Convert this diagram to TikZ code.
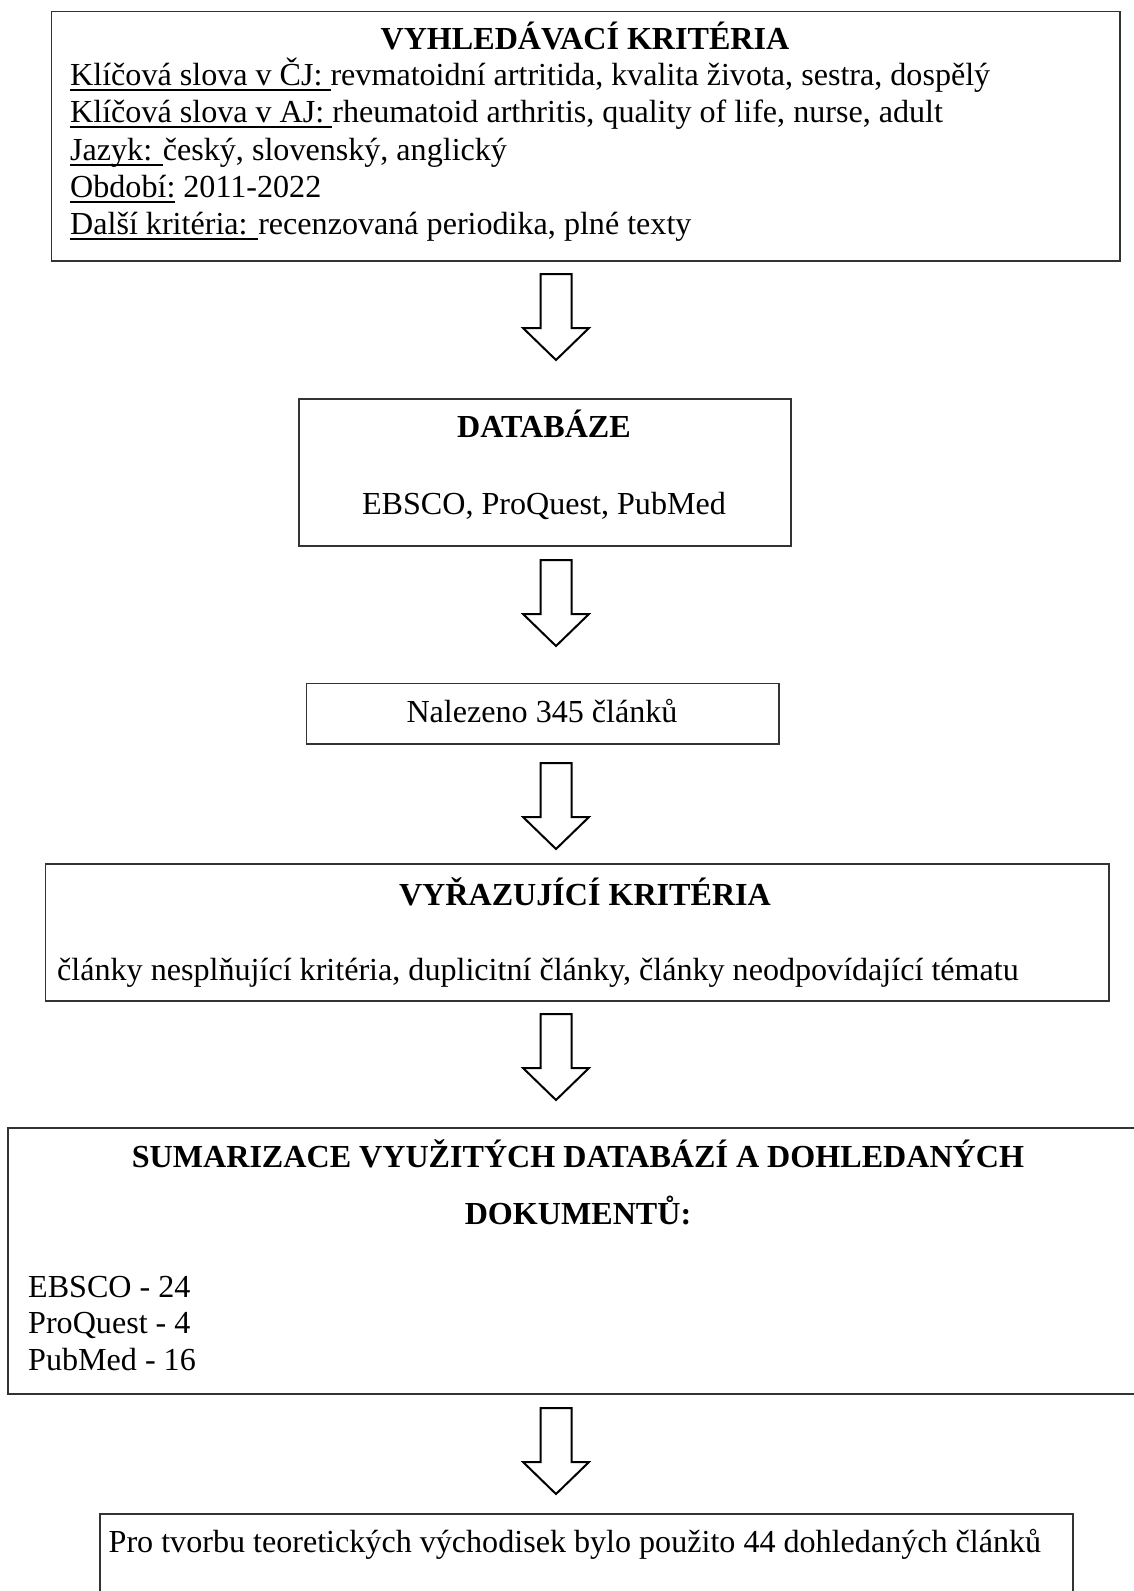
\documentclass[tikz,border=0pt]{standalone}
\usepackage{fontspec}
\setmainfont{Liberation Serif}
\newsavebox\ulsave
\newcommand\ulword[1]{\sbox\ulsave{#1}\rlap{\rule[-5.5pt]{\wd\ulsave}{1.8pt}}\usebox\ulsave}
\newcommand\blockarrowat[1]{\draw[blockarrow] (#1) ++(-15.5,0) -- ++(31,0) -- ++(0,54) -- ++(17.5,0) -- ++(-33,32) -- ++(-33,-32) -- ++(17.5,0) -- cycle;}
\tikzset{
 box/.style={draw=black!80, line width=1.6pt, anchor=north west, inner sep=0pt},
 txt/.style={inner sep=0pt, font=\fontsize{32.1}{37}\selectfont},
 ttl/.style={inner sep=0pt, font=\fontsize{32.1}{37}\selectfont\bfseries},
 blockarrow/.style={draw=black, line width=2pt, fill=white, line join=miter}
}
\begin{document}
\begin{tikzpicture}[x=1pt,y=-1pt]
\useasboundingbox (0,0) rectangle (1134,1591);
\clip (0,0) rectangle (1134,1591);
\fill[white] (0,0) rectangle (1134,1591);

% boxes
\node[box, minimum width=1068.3pt, minimum height=249.3pt] (crit) at (50.7,10.7) {};
\node[box, minimum width=492pt, minimum height=147pt] (db) at (298,398) {};
\node[box, minimum width=472.3pt, minimum height=60.3pt] (found) at (305.7,682.7) {};
\node[box, minimum width=1063.4pt, minimum height=137pt] (excl) at (44.6,863) {};
\node[box, minimum width=1140pt, minimum height=266pt] (summ) at (7.3,1127) {};
\node[box, minimum width=972.6pt, minimum height=100pt] (final) at (99.4,1513) {};

% texts
\node[ttl, anchor=base] (t1) at (585,49) {VYHLEDÁVACÍ KRITÉRIA};
\node[txt, anchor=base west] (l1) at (70,85) {\ulword{Klíčová slova v ČJ: }revmatoidní artritida, kvalita života, sestra, dospělý};
\node[txt, anchor=base west] (l2) at (70,122) {\ulword{Klíčová slova v AJ: }rheumatoid arthritis, quality of life, nurse, adult};
\node[txt, anchor=base west] (l3) at (70,160) {\ulword{Jazyk: }český, slovenský, anglický};
\node[txt, anchor=base west] (l4) at (70,197) {\ulword{Období:} 2011-2022};
\node[txt, anchor=base west] (l5) at (70,234) {\ulword{Další kritéria: }recenzovaná periodika, plné texty};

\node[ttl, anchor=base] (t2) at (544,437) {DATABÁZE};
\node[txt, anchor=base] (d1) at (544,514) {EBSCO, ProQuest, PubMed};

\node[txt, anchor=base] (n1) at (542,722) {Nalezeno 345 článků};

\node[ttl, anchor=base] (t3) at (585,905) {VYŘAZUJÍCÍ KRITÉRIA};
\node[txt, anchor=base west] (e1) at (57,980) {články nesplňující kritéria, duplicitní články, články neodpovídající tématu};

\node[ttl, anchor=base] (t4a) at (578,1167) {SUMARIZACE VYUŽITÝCH DATABÁZÍ A DOHLEDANÝCH};
\node[ttl, anchor=base] (t4b) at (578,1224) {DOKUMENTŮ:};
\node[txt, anchor=base west] (s1) at (28,1297) {EBSCO - 24};
\node[txt, anchor=base west] (s2) at (28,1333) {ProQuest - 4};
\node[txt, anchor=base west] (s3) at (28,1370) {PubMed - 16};

\node[txt, anchor=base west] (f1) at (108.5,1552) {Pro tvorbu teoretických východisek bylo použito 44 dohledaných článků};

% block arrows
\coordinate (ar1) at (556,274);
\coordinate (ar2) at (556,560);
\coordinate (ar3) at (556,763);
\coordinate (ar4) at (556,1014);
\coordinate (ar5) at (556,1408);
\blockarrowat{ar1}
\blockarrowat{ar2}
\blockarrowat{ar3}
\blockarrowat{ar4}
\blockarrowat{ar5}
\end{tikzpicture}
\end{document}
